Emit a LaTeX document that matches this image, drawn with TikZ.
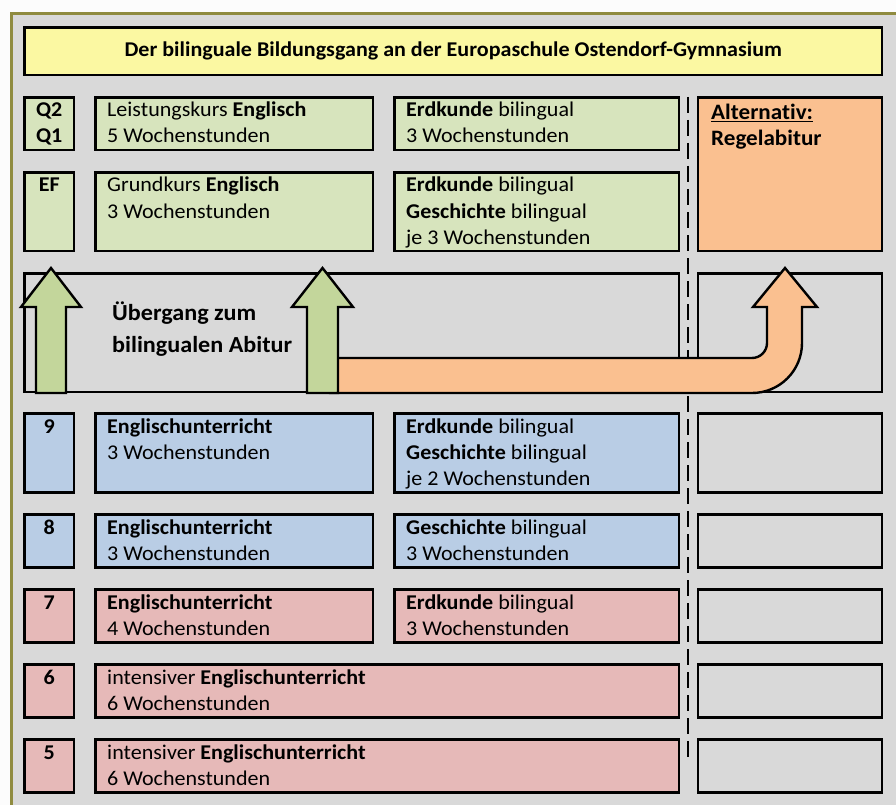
\documentclass[tikz,border=0pt]{standalone}
\usepackage{fontspec}
\setmainfont{Carlito}[FakeStretch=1.05,Ligatures=CommonOff]
\usetikzlibrary{calc}
\definecolor{bggray}{HTML}{D9D9D9}
\definecolor{frameolive}{HTML}{8F8B3F}
\definecolor{ttlyellow}{HTML}{FBF8A2}
\definecolor{lgreen}{HTML}{D7E4BD}
\definecolor{agreen}{HTML}{C3D69B}
\definecolor{lblue}{HTML}{B9CDE5}
\definecolor{lpink}{HTML}{E6B9B8}
\definecolor{lorange}{HTML}{FAC090}
\newcommand\lns[1]{\begin{tabular}[t]{@{}l@{}}#1\end{tabular}}
\newcommand\clns[1]{\begin{tabular}[t]{@{}c@{}}#1\end{tabular}}
% \bx{name}{x1}{y1}{x2}{y2}{fill}
\newcommand\bx[6]{\node[boxst, fill=#6, minimum width={(#4-#2)*1pt}, minimum height={(#5-#3)*1pt}] (#1) at (#2,#3) {};}
\begin{document}
\begin{tikzpicture}[x=1pt,y=-1pt,
  boxst/.style={draw=black, line width=2.6pt, rectangle, inner sep=0pt, outer sep=0pt, anchor=north west},
  txt/.style={anchor=base west, inner sep=0pt, font=\fontsize{21}{26}\selectfont},
  lbl/.style={anchor=base, inner sep=0pt, font=\bfseries\fontsize{21}{26}\selectfont},
  arr/.style={draw=black, line width=2.4pt, line join=miter},
  dashline/.style={draw=black, line width=2.6pt, dash pattern=on 16pt off 7pt}]
\useasboundingbox (0,0) rectangle (896,805);
\fill[white!93!bggray] (0,0) rectangle (896,805);
\fill[bggray, draw=frameolive, line width=3pt] (11.5,13.5) rectangle (910,820);
% title
\bx{title}{24.5}{27.5}{882}{75}{ttlyellow}
\node[anchor=base, inner sep=0pt, font=\bfseries\fontsize{21}{24}\selectfont] (ttltext) at ($(title.center)+(0,5)$) {Der bilinguale Bildungsgang an der Europaschule Ostendorf-Gymnasium};
% dashed separator
\coordinate (dtop) at (688,97);
\coordinate (dbot) at (688,762);
\draw[dashline] (dtop) -- (dbot);
% row Q2/Q1
\bx{lq}{24.5}{97.5}{74}{150}{lgreen}
\bx{mq}{95.5}{97.5}{373}{150}{lgreen}
\bx{rq}{394.5}{97.5}{679}{150}{lgreen}
\node[lbl] (lqt) at ($(lq.north)+(0,19.5)$) {\clns{Q2\\Q1}};
\node[txt] (mqt) at ($(mq.north west)+(11.5,19.5)$) {\lns{Leistungskurs \textbf{Englisch}\\5 Wochenstunden}};
\node[txt] (rqt) at ($(rq.north west)+(11.5,19.5)$) {\lns{\textbf{Erdkunde} bilingual\\3 Wochenstunden}};
% row EF
\bx{le}{24.5}{172.5}{74}{251}{lgreen}
\bx{me}{95.5}{172.5}{373}{251}{lgreen}
\bx{re}{394.5}{172.5}{679}{251}{lgreen}
\node[lbl] (let) at ($(le.north)+(0,19.5)$) {EF};
\node[txt] (met) at ($(me.north west)+(11.5,19.5)$) {\lns{Grundkurs \textbf{Englisch}\\3 Wochenstunden}};
\node[txt] (ret) at ($(re.north west)+(11.5,19.5)$) {\lns{\textbf{Erdkunde} bilingual\\\textbf{Geschichte} bilingual\\je 3 Wochenstunden}};
% alternative
\bx{alt}{698}{97.5}{882}{251}{lorange}
\node[txt, font=\bfseries\fontsize{22}{26}\selectfont] (altt) at ($(alt.north west)+(13,22)$) {\lns{\underline{Alternativ:}\\Regelabitur}};
% transition row
\bx{trans}{24.5}{273.5}{679}{392}{bggray}
\bx{transr}{698}{273.5}{882}{392}{bggray}
\node[txt, font=\bfseries\fontsize{23}{32}\selectfont] (transt) at ($(trans.north west)+(87.5,46.5)$) {\lns{Übergang zum\\bilingualen Abitur}};
% orange arrow
\coordinate (oa) at (330,358);
\draw[arr, fill=lorange] (oa) -- (752,358) arc[start angle=90, end angle=0, radius=15] -- (767,307) -- (753,307) -- (785,268) -- (817,307) -- (802,307) -- (802,343) arc[start angle=0, end angle=90, radius=50] -- (330,393) -- cycle;
% green arrows
\coordinate (ga) at (51,393);
\draw[arr, fill=agreen] ($(ga)+(-15,0)$) -- ++(0,-86) -- ++(-15,0) -- (51,268) -- (81,307) -- ++(-15,0) -- ++(0,86) -- cycle;
\coordinate (gb) at (322.5,393);
\draw[arr, fill=agreen] ($(gb)+(-15.5,0)$) -- ++(0,-86) -- ++(-15,0) -- (322.5,268) -- (353,307) -- ++(-15,0) -- ++(0,86) -- cycle;
% row 9
\bx{l9}{24.5}{413.5}{74}{492.5}{lblue}
\bx{m9}{95.5}{413.5}{373}{492.5}{lblue}
\bx{r9}{394.5}{413.5}{679}{492.5}{lblue}
\bx{x9}{698}{413.5}{882}{492.5}{bggray}
\node[lbl] (l9t) at ($(l9.north)+(0,19.5)$) {9};
\node[txt] (m9t) at ($(m9.north west)+(11.5,19.5)$) {\lns{\textbf{Englischunterricht}\\3 Wochenstunden}};
\node[txt] (r9t) at ($(r9.north west)+(11.5,19.5)$) {\lns{\textbf{Erdkunde} bilingual\\\textbf{Geschichte} bilingual\\je 2 Wochenstunden}};
% row 8
\bx{l8}{24.5}{514.5}{74}{567.5}{lblue}
\bx{m8}{95.5}{514.5}{373}{567.5}{lblue}
\bx{r8}{394.5}{514.5}{679}{567.5}{lblue}
\bx{x8}{698}{514.5}{882}{567.5}{bggray}
\node[lbl] (l8t) at ($(l8.north)+(0,19.5)$) {8};
\node[txt] (m8t) at ($(m8.north west)+(11.5,19.5)$) {\lns{\textbf{Englischunterricht}\\3 Wochenstunden}};
\node[txt] (r8t) at ($(r8.north west)+(11.5,19.5)$) {\lns{\textbf{Geschichte} bilingual\\3 Wochenstunden}};
% row 7
\bx{l7}{24.5}{589.5}{74}{642.5}{lpink}
\bx{m7}{95.5}{589.5}{373}{642.5}{lpink}
\bx{r7}{394.5}{589.5}{679}{642.5}{lpink}
\bx{x7}{698}{589.5}{882}{642.5}{bggray}
\node[lbl] (l7t) at ($(l7.north)+(0,19.5)$) {7};
\node[txt] (m7t) at ($(m7.north west)+(11.5,19.5)$) {\lns{\textbf{Englischunterricht}\\4 Wochenstunden}};
\node[txt] (r7t) at ($(r7.north west)+(11.5,19.5)$) {\lns{\textbf{Erdkunde} bilingual\\3 Wochenstunden}};
% row 6
\bx{l6}{24.5}{664.5}{74}{717.5}{lpink}
\bx{m6}{95.5}{664.5}{679}{717.5}{lpink}
\bx{x6}{698}{664.5}{882}{717.5}{bggray}
\node[lbl] (l6t) at ($(l6.north)+(0,19.5)$) {6};
\node[txt] (m6t) at ($(m6.north west)+(11.5,19.5)$) {\lns{intensiver \textbf{Englischunterricht}\\6 Wochenstunden}};
% row 5
\bx{l5}{24.5}{739.5}{74}{792.5}{lpink}
\bx{m5}{95.5}{739.5}{679}{792.5}{lpink}
\bx{x5}{698}{739.5}{882}{792.5}{bggray}
\node[lbl] (l5t) at ($(l5.north)+(0,19.5)$) {5};
\node[txt] (m5t) at ($(m5.north west)+(11.5,19.5)$) {\lns{intensiver \textbf{Englischunterricht}\\6 Wochenstunden}};
\end{tikzpicture}
\end{document}
